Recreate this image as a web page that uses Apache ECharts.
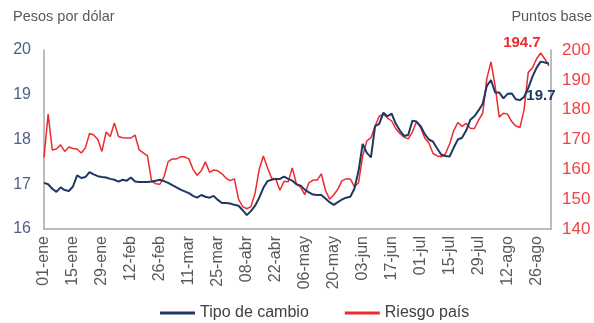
<!DOCTYPE html>
<html lang="es">

<head>
    <meta charset="UTF-8">
    <script src="https://cdn.jsdelivr.net/npm/echarts@6/dist/echarts.min.js"></script>
    <title>Tipo de cambio y riesgo país</title>
    <style>
        html, body { margin: 0; padding: 0; background: #fff; }
        #main { width: 594px; height: 323px; }
    </style>
</head>

<body>
    <div id="main"></div>

    <script type="text/javascript">
        // etiquetas del eje x (cada 14 días)
        let etiquetas = ['01-ene', '15-ene', '29-ene', '12-feb', '26-feb', '11-mar', '25-mar', '08-abr', '22-abr',
            '06-may', '20-may', '03-jun', '17-jun', '01-jul', '15-jul', '29-jul', '12-ago', '26-ago'];
        // un dato cada 2 días desde el 01-ene
        let paso = 2;

        // pesos por dólar (eje izquierdo)
        let tipoCambio = [
            17.03, 17.0, 16.9, 16.83, 16.93, 16.87, 16.85, 16.95, 17.2, 17.14,
            17.16, 17.27, 17.22, 17.18, 17.16, 17.15, 17.12, 17.1, 17.06, 17.1,
            17.08, 17.15, 17.06, 17.05, 17.05, 17.05, 17.06, 17.08, 17.1, 17.07,
            17.03, 16.98, 16.93, 16.88, 16.84, 16.8, 16.74, 16.7, 16.76, 16.72,
            16.7, 16.74, 16.65, 16.58, 16.58, 16.57, 16.54, 16.52, 16.42, 16.31,
            16.4, 16.52, 16.7, 16.92, 17.07, 17.1, 17.12, 17.12, 17.17, 17.12,
            17.08, 17.0, 16.97, 16.88, 16.82, 16.77, 16.76, 16.76, 16.68, 16.6,
            16.54, 16.6, 16.66, 16.7, 16.72, 16.9, 17.3, 17.9, 17.7, 17.6,
            18.3, 18.35, 18.6, 18.52, 18.58, 18.35, 18.2, 18.08, 18.1, 18.42,
            18.4, 18.3, 18.12, 18.0, 17.95, 17.8, 17.66, 17.63, 17.62, 17.82,
            18.0, 18.04, 18.2, 18.44, 18.52, 18.65, 18.8, 19.2, 19.33, 19.05,
            19.05, 18.92, 19.02, 19.03, 18.9, 18.88, 18.95, 19.15, 19.4, 19.6,
            19.74, 19.72, 19.7
        ];

        // puntos base (eje derecho)
        let riesgoPais = [
            164, 178.5, 166.5, 166.8, 168.2, 166, 167.5, 167, 166.8, 165.5,
            167.2, 172, 171.5, 170, 166, 172.5, 171, 175.5, 171, 170.6,
            170.5, 170.5, 171.5, 166.5, 165.5, 164.5, 156, 155.2, 155, 157.5,
            162.6, 163.5, 163.5, 164.2, 164.2, 163.5, 160, 158, 159.5, 162.5,
            159, 159.8, 159.5, 158.5, 157, 156.2, 156.8, 150, 147.5, 146.8,
            147.5, 152, 160, 164.5, 160.5, 157, 156.8, 153, 156, 155.8,
            160.5, 155, 154, 151.5, 155.5, 156.4, 156.4, 158.5, 153, 150,
            151.5, 153.3, 156.2, 156.8, 156.8, 154.2, 155.5, 164.5, 169.5, 170.6,
            174.5, 177.8, 178.5, 177.2, 176.2, 173.6, 172, 170.8, 170.2, 172.5,
            175.9, 174, 170.5, 168.8, 165.3, 164.5, 164.2, 165.2, 168.5, 173,
            175.7, 174.4, 175.4, 173.8, 173.7, 176.5, 178.8, 190.5, 196, 188,
            177.5, 178.8, 178.5, 176, 174.5, 174, 180, 192.5, 194, 197,
            199, 197, 194.7
        ];

        let azul = '#1F3864';
        let rojo = '#EE2A2F';
        let fuente = 'Liberation Sans, Arial, sans-serif';

        function aPares(valores) {
            return valores.map(function (v, i) { return [i * paso, v]; });
        }

        function ultimo(valores) {
            let n = valores.length - 1;
            return [n * paso, valores[n]];
        }

        let myChart = echarts.init(document.getElementById('main'), null, { renderer: 'canvas' });

        let option = {
            animation: false,
            textStyle: { fontFamily: fuente },
            grid: { left: 44, right: 43, top: 50, bottom: 94 },
            graphic: [
                { type: 'text', left: 13, top: 9, style: { text: 'Pesos por dólar', font: '14.5px ' + fuente, fill: '#595959' } },
                { type: 'text', right: 2, top: 9, style: { text: 'Puntos base', font: '14.5px ' + fuente, fill: '#595959' } }
            ],
            legend: {
                left: 155,
                top: 300,
                icon: 'rect',
                itemWidth: 35,
                itemHeight: 3,
                itemGap: 36,
                textStyle: { fontSize: 16, color: '#404040', fontFamily: fuente },
                data: ['Tipo de cambio', 'Riesgo país']
            },
            xAxis: {
                type: 'value',
                min: 0,
                max: 245,
                interval: 14,
                splitLine: { show: false },
                axisTick: { show: false },
                axisLine: { lineStyle: { color: '#A6A6A6', width: 1.5 } },
                axisLabel: {
                    rotate: 90,
                    fontSize: 16,
                    color: '#595959',
                    margin: 7,
                    showMaxLabel: false,
                    formatter: function (v) {
                        return v % 14 === 0 ? (etiquetas[v / 14] || '') : '';
                    }
                }
            },
            yAxis: [{
                type: 'value',
                min: 16,
                max: 20,
                interval: 1,
                splitLine: { show: false },
                axisTick: { show: false },
                axisLine: { show: true, lineStyle: { color: '#A6A6A6', width: 1.5 } },
                axisLabel: { fontSize: 16, color: '#4F5E86', margin: 13 }
            }, {
                type: 'value',
                min: 140,
                max: 200,
                interval: 10,
                position: 'right',
                splitLine: { show: false },
                axisTick: { show: false },
                axisLine: { show: true, lineStyle: { color: '#A6A6A6', width: 1.5 } },
                axisLabel: { fontSize: 17, color: '#F04444', margin: 11 }
            }],
            series: [{
                name: 'Riesgo país',
                type: 'line',
                yAxisIndex: 1,
                z: 2,
                showSymbol: false,
                color: rojo,
                lineStyle: { color: rojo, width: 1.5 },
                data: aPares(riesgoPais),
                markPoint: {
                    symbol: 'circle',
                    symbolSize: 1,
                    itemStyle: { color: 'rgba(0,0,0,0)' },
                    label: {
                        show: true,
                        position: 'inside',
                        offset: [-27, -23],
                        formatter: '{c}',
                        color: rojo,
                        fontWeight: 'bold',
                        fontSize: 15
                    },
                    data: [{ coord: ultimo(riesgoPais), value: riesgoPais[riesgoPais.length - 1] }]
                }
            }, {
                name: 'Tipo de cambio',
                type: 'line',
                yAxisIndex: 0,
                z: 3,
                showSymbol: false,
                color: azul,
                lineStyle: { color: azul, width: 2 },
                data: aPares(tipoCambio),
                markPoint: {
                    symbol: 'circle',
                    symbolSize: 1,
                    itemStyle: { color: 'rgba(0,0,0,0)' },
                    label: {
                        show: true,
                        position: 'inside',
                        offset: [-8, 32],
                        formatter: '{c}',
                        color: azul,
                        fontWeight: 'bold',
                        fontSize: 15
                    },
                    data: [{ coord: ultimo(tipoCambio), value: tipoCambio[tipoCambio.length - 1] }]
                }
            }]
        };

        myChart.setOption(option);
    </script>
</body>

</html>
